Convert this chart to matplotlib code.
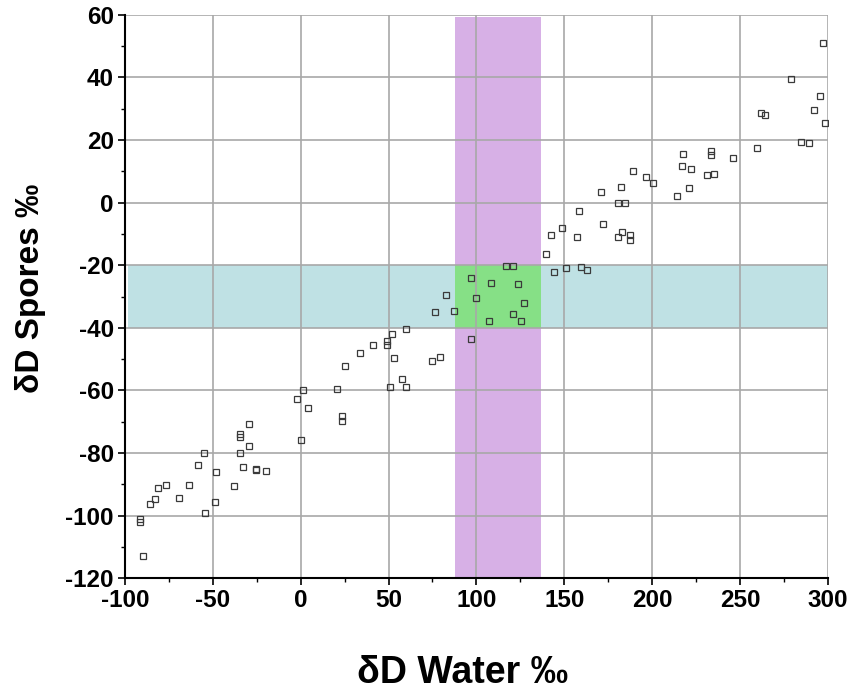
import matplotlib.pyplot as plt
from matplotlib.ticker import MultipleLocator

plt.rcParams['font.family'] = ['Liberation Sans', 'DejaVu Sans']
plt.rcParams['axes.unicode_minus'] = False

# dD water vs dD spores
water = [1.3, -1.9, 4.2, -29.2, -34.7, -34.7, -29.2, 0.0, -55.2, -34.3,
         -58.6, -33.0, -25.6, -25.6, -19.5, -48.4, -38.1, -76.6, -81.2, -63.7,
         -69.2, -82.7, -85.7, -48.9, -54.6, -91.6, -91.6, -89.7,
         97.1, 82.5, 100.0, 76.4, 87.0, 97.1, 59.9, 51.8, 49.1, 49.1,
         41.0, 33.6, 52.9, 25.4, 74.7, 79.1, 57.5, 51.0, 60.1, 20.7,
         23.5, 23.5,
         139.8, 116.6, 120.8, 144.1, 151.2, 108.1, 123.9, 127.3, 120.8, 107.4,
         125.4,
         217.5, 217.0, 222.3, 189.3, 196.7, 200.5, 220.9, 182.5, 171.1, 213.9,
         180.4, 184.7, 158.4, 171.8, 148.7, 142.4, 157.2, 183.0, 180.6, 187.6,
         187.6, 159.3, 163.1,
         297.2, 278.8, 295.7, 292.3, 298.5, 262.1, 264.4, 284.7, 289.2, 259.6,
         233.5, 233.5, 246.0, 231.0, 235.0]
spores = [-59.9, -62.6, -65.6, -70.8, -74.0, -75.0, -77.9, -75.8, -80.0, -80.0,
          -83.9, -84.6, -85.0, -85.6, -85.8, -86.1, -90.7, -90.2, -91.1, -90.2,
          -94.3, -94.8, -96.4, -95.8, -99.3, -101.0, -102.2, -113.0,
          -24.1, -29.5, -30.6, -34.8, -34.5, -43.6, -40.4, -42.0, -44.3, -45.5,
          -45.6, -48.2, -49.7, -52.2, -50.6, -49.2, -56.4, -58.9, -58.8, -59.5,
          -68.1, -69.7,
          -16.4, -20.2, -20.2, -22.1, -21.0, -25.7, -26.0, -32.1, -35.6, -37.8,
          -37.8,
          15.6, 11.8, 10.7, 10.2, 8.1, 6.3, 4.6, 4.9, 3.5, 2.0,
          -0.1, -0.1, -2.6, -6.7, -8.1, -10.2, -10.9, -9.4, -10.9, -10.2,
          -11.8, -20.6, -21.4,
          51.1, 39.5, 34.2, 29.6, 25.6, 28.5, 28.1, 19.5, 19.2, 17.4,
          16.6, 15.3, 14.3, 8.7, 9.2]

# shaded ranges
water_range = (88, 137)
spore_range = (-40, -20)

fig = plt.figure(figsize=(8.53, 6.94), dpi=100)
ax = fig.add_axes([0.1465, 0.167, 0.824, 0.8115])

ax.axvspan(water_range[0], water_range[1], ymax=0.997, color='#d7b0e6', lw=0, zorder=0)
ax.axhspan(spore_range[0], spore_range[1], xmin=0.005, color='#bfe1e4', lw=0, zorder=0)
ax.fill_between(water_range, spore_range[0], spore_range[1], color='#86e086', lw=0, zorder=0.5)

ax.plot(water, spores, 's', ms=4.6, mfc='none', mec='#3a3a3a', mew=0.9, zorder=3)

ax.set_xlim(-100, 300)
ax.set_ylim(-120, 60)
ax.xaxis.set_major_locator(MultipleLocator(50))
ax.xaxis.set_minor_locator(MultipleLocator(25))
ax.yaxis.set_major_locator(MultipleLocator(20))
ax.yaxis.set_minor_locator(MultipleLocator(10))
ax.grid(True, which='major', color='#a8a8a8', lw=1.2, zorder=1)
ax.set_axisbelow(True)

for s in ['top', 'right']:
    ax.spines[s].set_visible(False)
for s in ['left', 'bottom']:
    ax.spines[s].set_linewidth(1.5)
    ax.spines[s].set_zorder(4)

ax.tick_params(which='major', direction='out', length=5, width=1.2, labelsize=17.5, pad=3)
ax.tick_params(which='minor', direction='out', length=3, width=1)
for lab in ax.get_xticklabels() + ax.get_yticklabels():
    lab.set_fontweight('bold')

ax.set_xlabel('δD Water ‰', fontsize=27, fontweight='bold')
ax.xaxis.set_label_coords(0.48, -0.137)
ax.set_ylabel('δD Spores ‰', fontsize=24, fontweight='bold')
ax.yaxis.set_label_coords(-0.113, 0.515)

fig.savefig('out.png', dpi=100)
